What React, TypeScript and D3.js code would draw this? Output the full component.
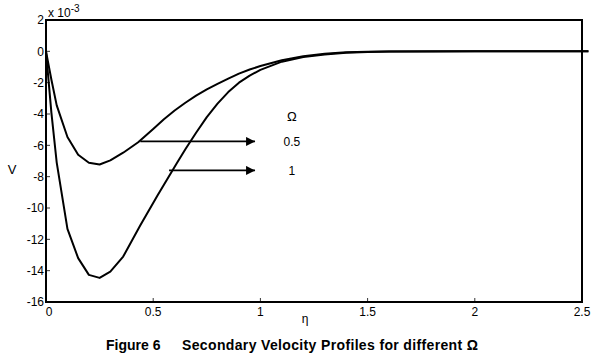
import React from "react";
import * as d3 from "d3";

const etaHalf = [0, 0.025, 0.05, 0.1, 0.15, 0.2, 0.25, 0.3, 0.36, 0.43, 0.5, 0.55, 0.6, 0.65, 0.7, 0.75, 0.8, 0.85, 0.9, 0.95, 1.0, 1.1, 1.2, 1.3, 1.4, 1.5, 1.6, 1.8, 2.0, 2.25, 2.53];
const vHalf = [0, -1.8, -3.45, -5.47, -6.6, -7.11, -7.22, -6.96, -6.47, -5.8, -4.95, -4.33, -3.78, -3.28, -2.83, -2.43, -2.08, -1.74, -1.42, -1.16, -0.94, -0.57, -0.32, -0.16, -0.06, -0.02, -0.008, -0.002, 0, 0, 0];
const etaOne = [0, 0.025, 0.05, 0.1, 0.15, 0.2, 0.25, 0.3, 0.36, 0.44, 0.52, 0.61, 0.65, 0.7, 0.75, 0.8, 0.85, 0.9, 0.95, 1.0, 1.1, 1.2, 1.3, 1.4, 1.5, 1.6, 1.8, 2.0, 2.25, 2.53];
const vOne = [0, -3.9, -7.1, -11.33, -13.2, -14.27, -14.46, -14.06, -13.1, -11.1, -9.2, -7.15, -6.25, -5.2, -4.2, -3.34, -2.6, -2.0, -1.55, -1.18, -0.66, -0.37, -0.2, -0.09, -0.035, -0.012, -0.003, 0, 0, 0];

const xTicks = [0, 0.5, 1, 1.5, 2, 2.5];
const yTicks = [2, 0, -2, -4, -6, -8, -10, -12, -14, -16];
const legendLabels = ["0.5", "1"];
// arrow annotations
const arrowStarts = [0.44, 0.574];
const arrowV = [-5.75, -7.6];
const arrowEnd = 0.975;
const labelEta = 1.147;

export default function App() {
  const x = d3.scaleLinear().domain([0, 2.5]).range([46, 582]);
  const y = d3.scaleLinear().domain([-16, 2]).range([302, 20]);
  const line = d3
    .line<[number, number]>()
    .x((d) => x(d[0]))
    .y((d) => y(d[1]));
  const series = [
    etaHalf.map((e, i) => [e, vHalf[i]] as [number, number]),
    etaOne.map((e, i) => [e, vOne[i]] as [number, number]),
  ];
  const font = "'Liberation Sans', Arial, sans-serif";
  return (
    <svg
      width={600}
      height={364}
      style={{ position: "absolute", left: 0, top: 0, background: "#fff" }}
      fontFamily={font}
    >
      <rect x={0} y={0} width={600} height={364} fill="#fff" />
      {series.map((s, i) => (
        <path key={i} d={line(s) || ""} fill="none" stroke="#000" strokeWidth={2} strokeLinejoin="round" />
      ))}
      <rect x={x(0)} y={y(2)} width={x(2.5) - x(0)} height={y(-16) - y(2)} fill="none" stroke="#000" strokeWidth={2} />
      {yTicks.map((t) => (
        <g key={"y" + t}>
          <line x1={x(0)} x2={x(0) + 4} y1={y(t)} y2={y(t)} stroke="#000" strokeWidth={0.8} />
          <text x={44} y={y(t)} dy="0.35em" textAnchor="end" fontSize={12}>
            {t}
          </text>
        </g>
      ))}
      {xTicks.map((t) => (
        <g key={"x" + t}>
          <line x1={x(t)} x2={x(t)} y1={y(-16)} y2={y(-16) - 4} stroke="#000" strokeWidth={0.8} />
          <text x={t === 0 ? x(t) + 3 : x(t)} y={y(-16) + 14} textAnchor="middle" fontSize={12}>
            {t}
          </text>
        </g>
      ))}
      <text x={48} y={17} fontSize={12}>
        x 10
        <tspan dy={-5} fontSize={10}>-3</tspan>
      </text>
      <text x={305} y={323} textAnchor="middle" fontSize={12}>η</text>
      <text x={12} y={174} textAnchor="middle" fontSize={13}>V</text>
      <defs>
        <marker id="ah" viewBox="0 0 10 10" refX={10} refY={5} markerWidth={10} markerHeight={9} markerUnits="userSpaceOnUse" orient="auto">
          <path d="M0,0 L10,5 L0,10 Z" fill="#000" />
        </marker>
      </defs>
      {arrowStarts.map((s, i) => (
        <line key={"a" + i} x1={x(s)} x2={x(arrowEnd)} y1={y(arrowV[i])} y2={y(arrowV[i])} stroke="#000" strokeWidth={1.8} markerEnd="url(#ah)" />
      ))}
      <text x={x(labelEta)} y={116} dy="0.35em" textAnchor="middle" fontSize={13}>Ω</text>
      {legendLabels.map((l, i) => (
        <text key={"l" + i} x={x(labelEta)} y={y(arrowV[i])} dy="0.35em" textAnchor="middle" fontSize={12}>
          {l}
        </text>
      ))}
      <text x={106} y={350} fontSize={14} fontWeight="bold">Figure 6</text>
      <text x={182} y={350} fontSize={14} fontWeight="bold" textLength={296} lengthAdjust="spacing">Secondary Velocity Profiles for different  Ω</text>
    </svg>
  );
}
